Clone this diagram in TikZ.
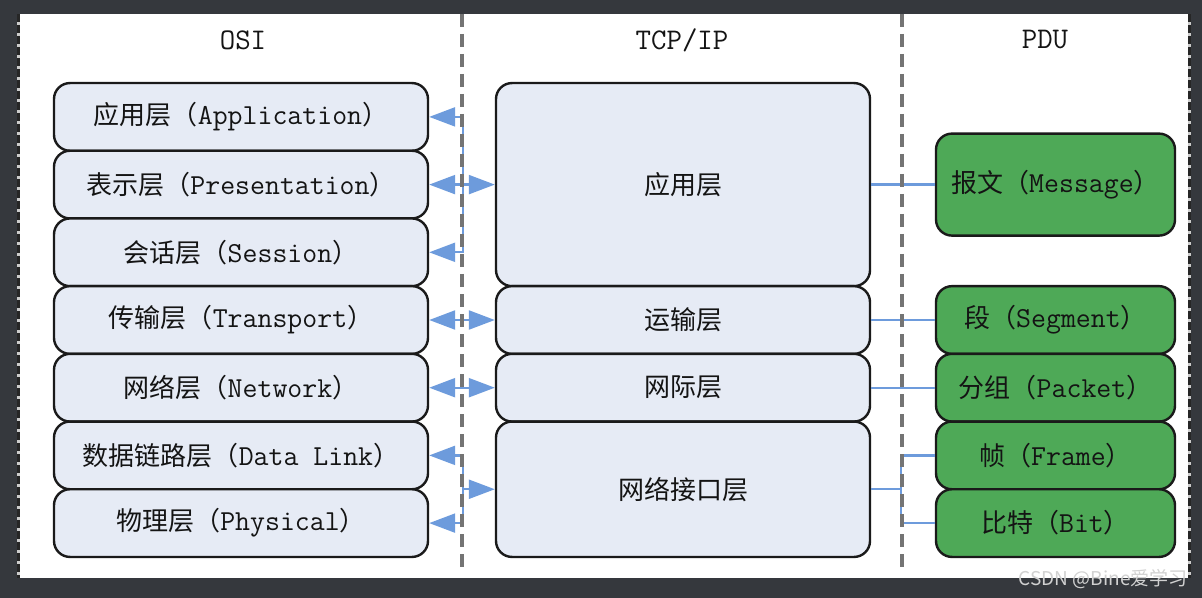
\documentclass[tikz,border=0pt]{standalone}
\usepackage{fontspec}
\newfontfamily\cjk{Noto Sans CJK SC}
\usetikzlibrary{arrows.meta}
\definecolor{bgdark}{HTML}{35383D}
\definecolor{osifill}{HTML}{E6EBF5}
\definecolor{pdufill}{HTML}{4EA957}
\definecolor{boxline}{HTML}{1A1A1A}
\definecolor{arrowblue}{HTML}{6D9BDC}
\definecolor{divgray}{HTML}{747474}
\definecolor{textc}{HTML}{141414}
\newcommand{\monot}[1]{{\fontsize{14.5}{17}\selectfont\ttfamily #1}}
\newcommand{\mixlbl}[2]{{\cjk #1（}\monot{#2}{\cjk ）}}
\tikzset{
  layerbox/.style={draw=boxline, line width=1.2pt, rounded corners=8pt,
     inner sep=0pt, text=textc, font=\fontsize{13}{16}\selectfont\cjk},
  osibox/.style={layerbox, fill=osifill, minimum width=187pt, minimum height=33.85pt},
  tcpbox/.style={layerbox, fill=osifill, minimum width=187pt},
  pdubox/.style={layerbox, fill=pdufill, minimum width=119.5pt, minimum height=33.85pt},
  title/.style={text=textc, font=\fontsize{15}{17}\selectfont\ttfamily},
  arr/.style={draw=arrowblue, line width=1.1pt, -{Triangle[length=13pt,width=9.5pt]}},
  darr/.style={draw=arrowblue, line width=1.1pt, {Triangle[length=13pt,width=9.5pt]}-{Triangle[length=13pt,width=9.5pt]}},
  conn/.style={draw=arrowblue, line width=1.1pt},
  divider/.style={draw=divgray, line width=1.6pt, dash pattern=on 6.5pt off 3.5pt},
}
\begin{document}
\begin{tikzpicture}[x=0.5pt,y=-0.5pt]
\useasboundingbox (0,0) rectangle (1202,598);
\fill[bgdark] (0,0) rectangle (1202,598);
\fill[white] (20,14) rectangle (1188,578);
\draw[line width=1.5pt, white!60!gray] (18.5,14) -- (18.5,578);
\draw[line width=1.5pt, white!60!gray] (1189.5,14) -- (1189.5,578);
\draw[line width=1.5pt, black!85, dash pattern=on 4pt off 1.5pt] (18.5,14) -- (18.5,578);
\draw[line width=1.5pt, black!85, dash pattern=on 4pt off 1.5pt] (1189.5,14) -- (1189.5,578);

% titles
\node[title] (tosi) at (243,40) {OSI};
\node[title] (ttcp) at (682,40) {TCP/IP};
\node[title] (tpdu) at (1045,40) {PDU};

% OSI
\node[osibox] (app) at (241,116.9) {\mixlbl{应用层}{Application}};
\node[osibox] (pre) at (241,184.6) {\mixlbl{表示层}{Presentation}};
\node[osibox] (ses) at (241,252.3) {\mixlbl{会话层}{Session}};
\node[osibox] (tra) at (241,320) {\mixlbl{传输层}{Transport}};
\node[osibox] (net) at (241,387.7) {\mixlbl{网络层}{Network}};
\node[osibox] (dl)  at (241,455.4) {\mixlbl{数据链路层}{Data Link}};
\node[osibox] (phy) at (241,523.1) {\mixlbl{物理层}{Physical}};

% TCP/IP
\node[tcpbox, minimum height=101.55pt] (tapp) at (683,184.6) {应用层};
\node[tcpbox, minimum height=33.85pt] (ttr) at (683,320) {运输层};
\node[tcpbox, minimum height=33.85pt] (tip) at (683,387.7) {网际层};
\node[tcpbox, minimum height=67.7pt] (tnil) at (683,489.25) {网络接口层};

% PDU
\node[pdubox, minimum height=51pt] (msg) at (1055.5,184.6) {\mixlbl{报文}{Message}};
\node[pdubox] (seg) at (1055.5,320) {\mixlbl{段}{Segment}};
\node[pdubox] (pkt) at (1055.5,387.7) {\mixlbl{分组}{Packet}};
\node[pdubox] (frm) at (1055.5,455.4) {\mixlbl{帧}{Frame}};
\node[pdubox] (bit) at (1055.5,523.1) {\mixlbl{比特}{Bit}};

% OSI <-> TCP/IP arrows
\coordinate (j1) at (463,184.6);
\coordinate (j2) at (463,489.25);
\draw[darr] (pre.east) -- (tapp.west);
\draw[arr] (j1) |- (app.east);
\draw[arr] (j1) |- (ses.east);
\draw[darr] (tra.east) -- (ttr.west);
\draw[darr] (net.east) -- (tip.west);
\draw[arr] (j2) |- (dl.east);
\draw[arr] (j2) |- (phy.east);
\draw[arr] (j2) -- (tnil.west);

% TCP/IP -- PDU
\coordinate (j3) at (901,489.25);
\draw[conn] (tapp.east) -- (msg.west);
\draw[conn] (ttr.east) -- (seg.west);
\draw[conn] (tip.east) -- (pkt.west);
\draw[conn] (tnil.east) -- (j3);
\draw[conn] (j3) |- (frm.west);
\draw[conn] (j3) |- (bit.west);

% dividers
\coordinate (d1t) at (462,14);
\coordinate (d1b) at (462,570);
\coordinate (d2t) at (902,14);
\coordinate (d2b) at (902,570);
\draw[divider] (d1t) -- (d1b);
\draw[divider] (d2t) -- (d2b);

% watermark
\node[anchor=east, inner sep=0pt, text=white!82!black, font=\fontsize{9.5}{11}\selectfont\cjk] (wm) at (1188,579) {CSDN @Bine爱学习};
\end{tikzpicture}
\end{document}
